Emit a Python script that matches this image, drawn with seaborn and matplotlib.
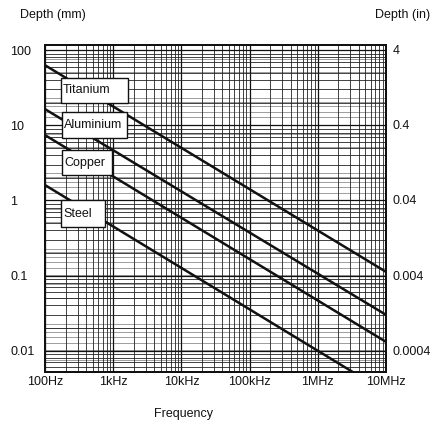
import numpy as np
import pandas as pd
import seaborn as sns
import matplotlib.pyplot as plt
import matplotlib.ticker as mticker
from matplotlib.patches import Rectangle

# skin depth lines, end points (Hz, mm)
materials = ["Titanium", "Aluminium", "Copper", "Steel"]
freq_start = [1e2, 1e2, 1e2, 1e2]
freq_end = [1e7, 1e7, 1e7, 1e7]
depth_start = [63.0, 16.4, 7.4, 1.6]
depth_end = [0.112, 0.030, 0.0131, 0.0028]

x_ticks = [1e2, 1e3, 1e4, 1e5, 1e6, 1e7]
x_labels = ["100Hz", "1kHz", "10kHz", "100kHz", "1MHz", "10MHz"]
mm_ticks = [100, 10, 1, 0.1, 0.01]
mm_labels = ["100", "10", "1", "0.1", "0.01"]
in_ticks = [4, 0.4, 0.04, 0.004, 0.0004]
in_labels = ["4", "0.4", "0.04", "0.004", "0.0004"]

rows = []
for m, f0, f1, d0, d1 in zip(materials, freq_start, freq_end, depth_start, depth_end):
    rows.append({"material": m, "freq": f0, "depth": d0})
    rows.append({"material": m, "freq": f1, "depth": d1})
df = pd.DataFrame(rows)

sns.set_theme(style="white")
plt.rcParams["font.family"] = ["Liberation Sans", "DejaVu Sans"]

fig = plt.figure(figsize=(4.36, 4.25), dpi=100)
ax = fig.add_axes([0.1032, 0.1247, 0.7821, 0.7694])
ax2 = ax.twinx()

sns.lineplot(data=df, x="freq", y="depth", units="material", estimator=None,
             color="#111111", linewidth=1.8, legend=False, ax=ax, zorder=3)

ax.set_xscale("log")
ax.set_yscale("log")
ax.set_xlim(1e2, 1e7)
ylo, yhi = 0.0052, 117
ax.set_ylim(ylo, yhi)
ax2.set_yscale("log")
ax2.set_ylim(ylo / 25.4, yhi / 25.4)

ax.xaxis.set_minor_locator(mticker.LogLocator(base=10, subs=np.arange(2, 10), numticks=30))
ax.yaxis.set_minor_locator(mticker.LogLocator(base=10, subs=np.arange(2, 10), numticks=30))
ax2.yaxis.set_minor_locator(mticker.LogLocator(base=10, subs=np.arange(2, 10), numticks=30))
ax.xaxis.set_minor_formatter(mticker.NullFormatter())
ax.yaxis.set_minor_formatter(mticker.NullFormatter())
ax2.yaxis.set_minor_formatter(mticker.NullFormatter())

ax.set_xticks(x_ticks, labels=x_labels)
ax.set_yticks(mm_ticks, labels=mm_labels)
ax2.set_yticks(in_ticks, labels=in_labels)

ax.tick_params(axis="both", which="both", length=0, labelsize=9, colors="#111111")
ax.tick_params(axis="x", pad=3)
ax.tick_params(axis="y", pad=25)
for lab in ax.get_yticklabels():
    lab.set_horizontalalignment("left")
ax2.tick_params(axis="y", which="both", length=0, labelsize=9, pad=5, colors="#111111")

ax.grid(which="major", color="#111111", linewidth=0.9)
ax.grid(which="minor", color="#222222", linewidth=0.6)
ax2.grid(which="both", axis="y", color="#777777", linewidth=0.5)
ax2.grid(False, axis="x")

ax.set_zorder(ax2.get_zorder() + 1)
ax.patch.set_visible(False)
ax2.patch.set_facecolor("white")

for a in (ax, ax2):
    for s in a.spines.values():
        s.set_color("#111111")
        s.set_linewidth(1.4)

ax.set_xlabel("")
ax.set_ylabel("")
ax2.set_ylabel("")

# label boxes (axes fraction): left, bottom, right, top
boxes = {
    "Titanium": (0.047, 0.823, 0.243, 0.899),
    "Aluminium": (0.050, 0.716, 0.240, 0.795),
    "Copper": (0.050, 0.602, 0.196, 0.679),
    "Steel": (0.047, 0.443, 0.176, 0.526),
}
for name, (x0, y0, x1, y1) in boxes.items():
    ax.add_patch(Rectangle((x0, y0), x1 - x0, y1 - y0, transform=ax.transAxes,
                           facecolor="white", edgecolor="#111111", linewidth=1.0,
                           zorder=5, clip_on=False))
    ax.text(x0 + 0.006, (y0 + y1) / 2, name, transform=ax.transAxes,
            ha="left", va="center", fontsize=9, color="#111111", zorder=6)

fig.text(20 / 436, 1 - 15 / 425, "Depth (mm)", ha="left", va="center", fontsize=9, color="#111111")
fig.text(430 / 436, 1 - 15 / 425, "Depth (in)", ha="right", va="center", fontsize=9, color="#111111")
fig.text(183 / 436, 1 - 414 / 425, "Frequency", ha="center", va="center", fontsize=9, color="#111111")

fig.savefig("out.png", dpi=100)
